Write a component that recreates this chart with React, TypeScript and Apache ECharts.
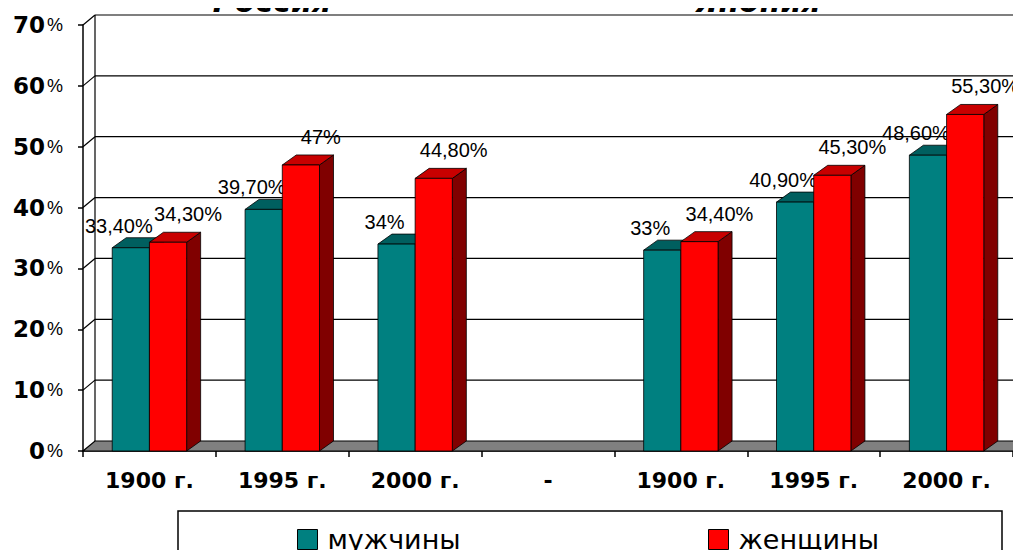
import React, { useEffect, useRef } from "react";
import * as echarts from "echarts";

const categories = ["1900 г.", "1995 г.", "2000 г.", "-", "1900 г.", "1995 г.", "2000 г."];
const menValues: (number | null)[] = [33.4, 39.7, 34, null, 33, 40.9, 48.6];
const womenValues: (number | null)[] = [34.3, 47, 44.8, null, 34.4, 45.3, 55.3];
const yTicks = [0, 10, 20, 30, 40, 50, 60, 70];
const seriesNames = ["мужчины", "женщины"];
const groupTitles = ["Россия", "Япония"];

const WALL_DX = 12;
const WALL_DY = -10;
const BAR_DX = 14;
const BAR_DY = -10;

const fmt = (v: number) =>
  Number.isInteger(v) ? `${v}%` : `${v.toFixed(2).replace(".", ",")}%`;

function barRenderer(kind: "men" | "women") {
  const front = kind === "men" ? "#008080" : "#ff0000";
  const topC = kind === "men" ? "#005f5f" : "#c80000";
  const sideC = kind === "men" ? "#004c4c" : "#800000";
  const lox = kind === "men" ? -12 : 20;
  const loy = kind === "men" ? -22 : -28;
  return (params: any, api: any) => {
    const i = api.value(0);
    const v = api.value(1);
    if (v == null || isNaN(v)) return null;
    const top = api.coord([i, v]);
    const base = api.coord([i, 0]);
    const slot = api.size([1, 0])[0];
    const bw = slot * 0.28;
    const l = kind === "men" ? top[0] - bw : top[0];
    const r = l + bw;
    const ty = top[1];
    const by = base[1];
    const stroke = { stroke: "#000", lineWidth: 0.8 };
    return {
      type: "group",
      children: [
        {
          type: "polygon",
          shape: { points: [[r, ty], [r + BAR_DX, ty + BAR_DY], [r + BAR_DX, by + BAR_DY], [r, by]] },
          style: { fill: sideC, ...stroke },
        },
        {
          type: "polygon",
          shape: { points: [[l, ty], [r, ty], [r + BAR_DX, ty + BAR_DY], [l + BAR_DX, ty + BAR_DY]] },
          style: { fill: topC, ...stroke },
        },
        {
          type: "rect",
          shape: { x: l, y: ty, width: bw, height: by - ty },
          style: { fill: front, ...stroke },
        },
        {
          type: "text",
          x: (l + r) / 2 + lox,
          y: ty + loy,
          style: {
            text: fmt(v),
            fill: "#000",
            font: "20px 'Liberation Sans', Arial, sans-serif",
            align: "center",
            verticalAlign: "middle",
          },
          z2: 10,
        },
      ],
    };
  };
}

function gridRenderer(params: any, api: any) {
  const t = api.value(1);
  const cs = params.coordSys;
  const x0 = cs.x;
  const w = cs.width;
  const y = api.coord([0, t])[1];
  const lineStyle = { stroke: "#000", lineWidth: 1.2, fill: null };
  const children: any[] = [];
  if (t === 0) {
    children.push({
      type: "polygon",
      shape: {
        points: [
          [x0, y],
          [x0 + w, y],
          [x0 + w + WALL_DX, y + WALL_DY],
          [x0 + WALL_DX, y + WALL_DY],
        ],
      },
      style: { fill: "#808080", stroke: "#000", lineWidth: 1.2 },
    });
    children.push({
      type: "line",
      shape: { x1: x0 + WALL_DX, y1: cs.y + WALL_DY, x2: x0 + WALL_DX, y2: y + WALL_DY },
      style: lineStyle,
    });
  } else {
    children.push({
      type: "line",
      shape: { x1: x0, y1: y, x2: x0 + WALL_DX, y2: y + WALL_DY },
      style: lineStyle,
    });
    children.push({
      type: "line",
      shape: { x1: x0 + WALL_DX, y1: y + WALL_DY, x2: x0 + w + WALL_DX + 20, y2: y + WALL_DY },
      style: lineStyle,
    });
  }
  return { type: "group", children };
}

export default function App() {
  const ref = useRef<HTMLDivElement>(null);
  useEffect(() => {
    if (!ref.current) return;
    const chart = echarts.init(ref.current, null, { renderer: "svg" });
    const toData = (arr: (number | null)[]) =>
      arr.map((v, i) => (v == null ? null : [i, v])).filter((d) => d != null);
    const legendText = {
      fontFamily: "'DejaVu Sans', sans-serif",
      fontSize: 27,
      color: "#000",
      padding: [0, 0, 0, 5],
    };
    chart.setOption({
      animation: false,
      backgroundColor: "#fff",
      grid: { left: 83, right: 8, top: 25, bottom: 107, containLabel: false },
      xAxis: {
        type: "category",
        data: categories,
        boundaryGap: true,
        axisLine: { show: true, lineStyle: { color: "#000", width: 1.5 } },
        axisTick: { show: true, length: 6, lineStyle: { color: "#000", width: 1.5 } },
        axisLabel: {
          interval: 0,
          margin: 18,
          color: "#000",
          fontFamily: "'DejaVu Sans', sans-serif",
          fontWeight: "bold",
          fontSize: 22,
        },
        splitLine: { show: false },
      },
      yAxis: {
        type: "value",
        min: 0,
        max: 70,
        interval: 10,
        axisLine: { show: true, lineStyle: { color: "#000", width: 1.5 } },
        axisTick: { show: true, length: 5, lineStyle: { color: "#000", width: 1.5 } },
        splitLine: { show: false },
        axisLabel: {
          margin: 20,
          formatter: (v: number) => `{n|${v}}{p|%}`,
          rich: {
            n: {
              fontFamily: "'DejaVu Sans', sans-serif",
              fontWeight: "bold",
              fontSize: 23,
              color: "#000",
            },
            p: {
              fontFamily: "'Liberation Sans', Arial, sans-serif",
              fontSize: 18,
              color: "#000",
              padding: [0, 0, 0, 2],
            },
          },
        },
      },
      legend: [
        {
          data: [seriesNames[0]],
          left: 297,
          top: 526,
          padding: 0,
          icon: "rect",
          itemWidth: 20,
          itemHeight: 20,
          itemStyle: { borderColor: "#000", borderWidth: 1 },
          textStyle: legendText,
          selectedMode: false,
        },
        {
          data: [seriesNames[1]],
          left: 708,
          top: 526,
          padding: 0,
          icon: "rect",
          itemWidth: 20,
          itemHeight: 20,
          itemStyle: { borderColor: "#000", borderWidth: 1 },
          textStyle: legendText,
          selectedMode: false,
        },
      ],
      graphic: [
        {
          type: "rect",
          shape: { x: 178, y: 511, width: 824, height: 80 },
          style: { fill: "none", stroke: "#000", lineWidth: 1.5 },
          z: -1,
        },
        {
          type: "text",
          x: 272,
          y: 1,
          style: {
            text: groupTitles[0],
            font: "italic bold 30px 'DejaVu Sans', sans-serif",
            fill: "#000",
            align: "center",
            verticalAlign: "middle",
          },
        },
        {
          type: "text",
          x: 758,
          y: 1,
          style: {
            text: groupTitles[1],
            font: "italic bold 30px 'DejaVu Sans', sans-serif",
            fill: "#000",
            align: "center",
            verticalAlign: "middle",
          },
        },
        { type: "rect", shape: { x: 0, y: 0, width: 5, height: 14 }, style: { fill: "#5fd8d8" } },
        { type: "rect", shape: { x: 0, y: 29, width: 7, height: 3 }, style: { fill: "#2cc0c0" } },
      ],
      series: [
        {
          type: "custom",
          name: "grid",
          z: 1,
          silent: true,
          renderItem: gridRenderer,
          data: yTicks.map((t) => [0, t]),
          encode: { x: 0, y: 1 },
        },
        {
          type: "custom",
          name: seriesNames[0],
          z: 3,
          itemStyle: { color: "#008080" },
          renderItem: barRenderer("men"),
          data: toData(menValues),
          encode: { x: 0, y: 1 },
        },
        {
          type: "custom",
          name: seriesNames[1],
          z: 4,
          itemStyle: { color: "#ff0000" },
          renderItem: barRenderer("women"),
          data: toData(womenValues),
          encode: { x: 0, y: 1 },
        },
      ],
    });
    return () => chart.dispose();
  }, []);
  return <div ref={ref} style={{ width: 1021, height: 558, margin: -8 }} />;
}
